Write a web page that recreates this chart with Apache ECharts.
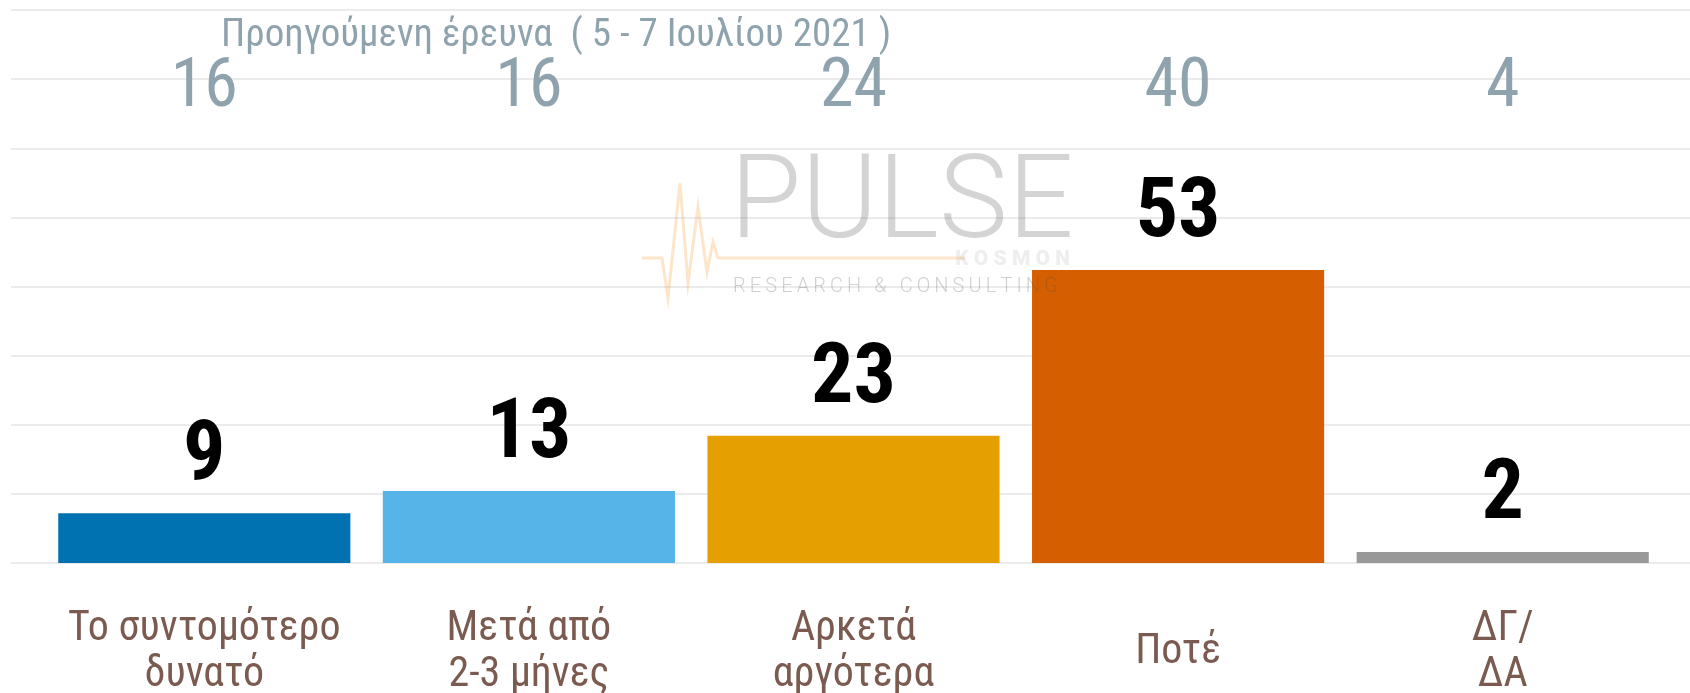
<!DOCTYPE html>
<html>
<head>
<meta charset="utf-8">
<script src="https://cdn.jsdelivr.net/npm/echarts@6/dist/echarts.min.js"></script>
<style>
    html, body { margin: 0; padding: 0; background: #fff; }
    #main { width: 1690px; height: 693px; }
</style>
</head>
<body>
<div id="main"></div>
<script>
// data
var categories = ['Το συντομότερο\nδυνατό', 'Μετά από\n2-3 μήνες', 'Αρκετά\nαργότερα', 'Ποτέ', 'ΔΓ/\nΔΑ'];
var currentValues = [9, 13, 23, 53, 2];
var previousValues = [16, 16, 24, 40, 4];
var barColors = ['#0072b2', '#56b4e9', '#e69f00', '#d55e00', '#999999'];
var subtitle = 'Προηγούμενη έρευνα  ( 5 - 7 Ιουλίου 2021 )';

var FONT = "'Roboto Condensed','Liberation Sans Narrow','DejaVu Sans Condensed',Roboto,sans-serif";

var chart = echarts.init(document.getElementById('main'));

//watermark pieces (decoration only)
var watermark = [
    {
        'type'   : 'polyline',
        'silent' : true,
        'shape'  : {
            'points' : [[642, 258], [662, 258], [668, 298], [680, 183], [688, 283], [698, 207],
                        [707, 272], [713, 242], [718, 258], [965, 258]]
        },
        'style'  : { 'stroke' : '#f6a94f', 'lineWidth' : 3, 'fill' : null, 'opacity' : 0.3 }
    },
    {
        'type'   : 'text',
        'silent' : true,
        'style'  : {
            'text' : 'PULSE', 'x' : 730, 'y' : 208, 'verticalAlign' : 'middle',
            'font' : '300 116px Roboto', 'fill' : '#7a7a7a', 'opacity' : 0.32
        }
    },
    {
        'type'   : 'text',
        'silent' : true,
        'style'  : {
            'text' : 'K O S M O N', 'x' : 1070, 'y' : 260, 'align' : 'right', 'verticalAlign' : 'middle',
            'font' : '900 21px Roboto', 'fill' : '#b0b0b0', 'opacity' : 0.22
        }
    },
    {
        'type'   : 'text',
        'silent' : true,
        'style'  : {
            'text' : 'R\u2009E\u2009S\u2009E\u2009A\u2009R\u2009C\u2009H\u2009 \u2009&\u2009 \u2009C\u2009O\u2009N\u2009S\u2009U\u2009L\u2009T\u2009I\u2009N\u2009G',
            'x' : 733, 'y' : 287, 'verticalAlign' : 'middle',
            'font' : '300 20px Roboto', 'fill' : '#555', 'opacity' : 0.28
        }
    }
];

var option = {
    'backgroundColor' : '#fff',
    'animation' : false,
    'title' : {
        'text' : subtitle,
        'left' : 207,
        'top'  : 17,
        'padding' : [0, 14],
        'backgroundColor' : '#fff',
        'textStyle' : { 'color' : '#8fa3ae', 'fontSize' : 39, 'fontWeight' : 'normal', 'fontFamily' : FONT }
    },
    'grid' : [
        //background grid lines
        { 'left' : 11, 'right' : 0, 'top' : 10, 'bottom' : 130, 'containLabel' : false, 'outerBoundsMode' : 'none' },
        //bars
        { 'left' : 42, 'right' : 25, 'top' : 10, 'bottom' : 130, 'containLabel' : false, 'outerBoundsMode' : 'none' }
    ],
    'xAxis' : [
        { 'type' : 'category', 'gridIndex' : 0, 'data' : categories, 'show' : false },
        {
            'type' : 'category', 'gridIndex' : 1, 'data' : categories,
            'axisLine' : { 'show' : false }, 'axisTick' : { 'show' : false },
            'axisLabel' : {
                'color' : '#7b5a4f', 'fontSize' : 42, 'fontFamily' : FONT,
                'lineHeight' : 46, 'margin' : 89, 'verticalAlign' : 'middle', 'interval' : 0
            }
        }
    ],
    'yAxis' : [
        {
            'type' : 'value', 'gridIndex' : 0, 'min' : 0, 'max' : 100, 'interval' : 12.5,
            'axisLine' : { 'show' : false }, 'axisTick' : { 'show' : false }, 'axisLabel' : { 'show' : false },
            'splitLine' : { 'lineStyle' : { 'color' : '#ebebeb', 'width' : 2 } }
        },
        {
            'type' : 'value', 'gridIndex' : 1, 'min' : 0, 'max' : 100, 'interval' : 12.5,
            'show' : false, 'splitLine' : { 'show' : false }
        }
    ],
    'series' : [
        {
            'type' : 'bar',
            'xAxisIndex' : 1, 'yAxisIndex' : 1,
            'barCategoryGap' : '10%',
            'data' : currentValues.map(function (v, i) {
                return { 'value' : v, 'itemStyle' : { 'color' : barColors[i] } };
            }),
            'label' : {
                'show' : true, 'position' : 'top', 'distance' : 13,
                'color' : '#000', 'fontSize' : 84, 'fontWeight' : 'bold', 'fontFamily' : FONT
            }
        },
        {
            //previous survey numbers, placed over each category
            'type' : 'custom',
            'xAxisIndex' : 1, 'yAxisIndex' : 1,
            'clip' : false, 'silent' : true,
            'data' : previousValues.map(function (v, i) { return [i, v]; }),
            'renderItem' : function (params, api) {
                var x = api.coord([api.value(0), 0])[0];
                return {
                    'type'  : 'text',
                    'style' : {
                        'text' : String(api.value(1)), 'x' : x, 'y' : 89,
                        'align' : 'center', 'verticalAlign' : 'middle',
                        'fill' : '#8fa3ae', 'font' : '68px ' + FONT
                    }
                };
            }
        }
    ],
    'graphic' : { 'elements' : watermark.map(function (e) { e.z = 100; return e; }) }
};

chart.setOption(option);
</script>
</body>
</html>
